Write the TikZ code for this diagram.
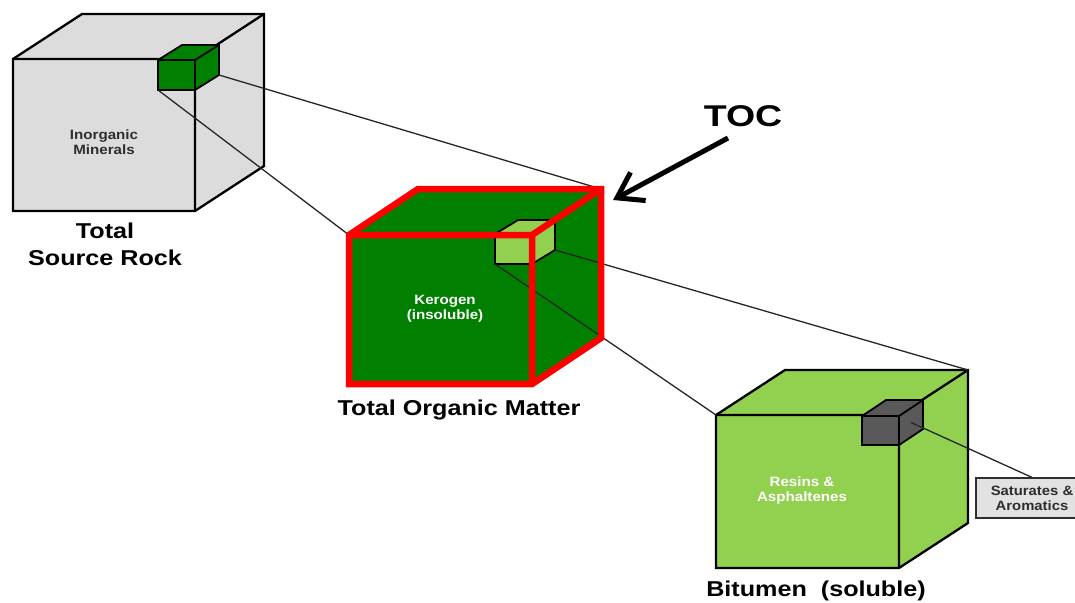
\documentclass[tikz,border=0pt]{standalone}
\usepackage{fontspec}
\setmainfont{Liberation Sans}
\usetikzlibrary{arrows.meta,calc}

\definecolor{rockgray}{HTML}{DCDCDC}
\definecolor{kerogen}{HTML}{007F00}
\definecolor{bitumen}{HTML}{92D050}
\definecolor{satgray}{HTML}{595959}
\definecolor{boxgray}{HTML}{E2E2E2}
\definecolor{labelgray}{HTML}{2E2E2E}

% horizontally widened text
\newcommand{\widetext}[2]{\scalebox{#1}[1]{#2}}

% corners of a cube: name, front-left x, front-top y, width, height, depth dx, depth dy
\newcommand{\setcube}[7]{%
  \coordinate (#1-ftl) at (#2,#3);
  \coordinate (#1-ftr) at (#2+#4,#3);
  \coordinate (#1-fbr) at (#2+#4,#3+#5);
  \coordinate (#1-fbl) at (#2,#3+#5);
  \coordinate (#1-btl) at (#2+#6,#3-#7);
  \coordinate (#1-btr) at (#2+#4+#6,#3-#7);
  \coordinate (#1-bbr) at (#2+#4+#6,#3+#5-#7);
}
% outline of the three visible faces
\newcommand{\cubebody}[2]{%
  \path[#2] (#1-ftl) -- (#1-btl) -- (#1-btr) -- (#1-bbr) -- (#1-fbr) -- (#1-fbl) -- cycle;}
% inner edges of the visible faces
\newcommand{\cubeinner}[2]{%
  \draw[#2] (#1-fbr) -- (#1-ftr) -- (#1-ftl) (#1-ftr) -- (#1-btr);}

\begin{document}
\begin{tikzpicture}[x=1pt,y=-1pt,
  cubeline/.style={draw=black,line width=2.3pt,line join=miter},
  smallcubeline/.style={draw=black,line width=1.8pt,line join=miter},
  redline/.style={draw=red,line width=6.5pt,line join=miter},
  conn/.style={draw=black!85,line width=1.3pt},
  smalllabel/.style={font=\fontsize{13.5}{15}\selectfont\bfseries,align=center,inner sep=0pt},
  biglabel/.style={font=\fontsize{21.5}{27}\selectfont\bfseries,align=center,inner sep=0pt},
  toclabel/.style={font=\fontsize{30}{36}\selectfont\bfseries,inner sep=0pt},
  satbox/.style={draw=labelgray,fill=boxgray,line width=1.2pt,minimum width=112pt,minimum height=40pt,
    font=\fontsize{13.5}{15}\selectfont\bfseries,align=center,text=labelgray,inner sep=0pt},
  tocarrow/.style={draw=black,line width=5pt,-{Straight Barb[length=24pt,width=32pt]}}
]
\clip (0,0) rectangle (1075,602);
\fill[white] (0,0) rectangle (1075,602);

% geometry
\setcube{c1}{13}{59}{182}{152}{69}{45}
\setcube{s1}{158}{60}{37}{30}{24}{15}
\setcube{c2}{349}{235}{183}{149}{69}{46}
\setcube{s2}{495}{234}{37}{30}{23}{14}
\setcube{c3}{716}{415}{183}{153}{69}{45}
\setcube{s3}{862}{416}{37}{29}{24}{16}
\coordinate (s3-rf) at ($(s3-ftr)!0.5!(s3-bbr)$);

% total source rock
\cubebody{c1}{fill=rockgray,cubeline}
\cubeinner{c1}{cubeline}
\cubebody{s1}{fill=kerogen,smallcubeline}
\cubeinner{s1}{smallcubeline}

% total organic matter
\cubebody{c2}{fill=kerogen}
\cubebody{s2}{fill=bitumen,smallcubeline}
\cubeinner{s2}{smallcubeline}

% bitumen
\cubebody{c3}{fill=bitumen,cubeline}
\cubeinner{c3}{cubeline}
\cubebody{s3}{fill=satgray,smallcubeline}
\cubeinner{s3}{smallcubeline}

% saturates box
\node[satbox] (sat) at (1032,498) {\widetext{1.1}{Saturates \&}\\\widetext{1.1}{Aromatics}};

% zoom connectors
\draw[conn] (s1-bbr) -- (c2-btr);
\draw[conn] (s1-fbl) -- (c2-ftl);
\draw[conn] (s2-bbr) -- (c3-btr);
\draw[conn] (s2-fbl) -- (c3-ftl);
\draw[conn] (s3-rf) -- (sat.north);

% red outline of the organic matter cube
\cubebody{c2}{redline}
\cubeinner{c2}{redline}

% labels
\node[smalllabel,text=labelgray] (inorg) at (104,142) {\widetext{1.12}{Inorganic}\\\widetext{1.12}{Minerals}};
\node[smalllabel,text=white] (kero) at (445,309) {\widetext{1.12}{Kerogen}\\\widetext{1.12}{(insoluble)}};
\node[smalllabel,text=white] (resins) at (802,491) {\widetext{1.12}{Resins \&}\\\widetext{1.12}{Asphaltenes}};

\node[biglabel] (tsr) at (105,244) {\widetext{1.17}{Total}\\\widetext{1.17}{Source Rock}};
\node[biglabel] (tom) at (459,410) {\widetext{1.17}{Total Organic Matter}};
\node[biglabel] (bit) at (816,591) {\widetext{1.17}{Bitumen\ \ (soluble)}};

% TOC pointer
\node[toclabel] (toc) at (743,116) {\widetext{1.25}{TOC}};
\coordinate (toc-tail) at (728,138);
\coordinate (toc-tip) at (613,200);
\draw[tocarrow] (toc-tail) -- (toc-tip);
\end{tikzpicture}
\end{document}
